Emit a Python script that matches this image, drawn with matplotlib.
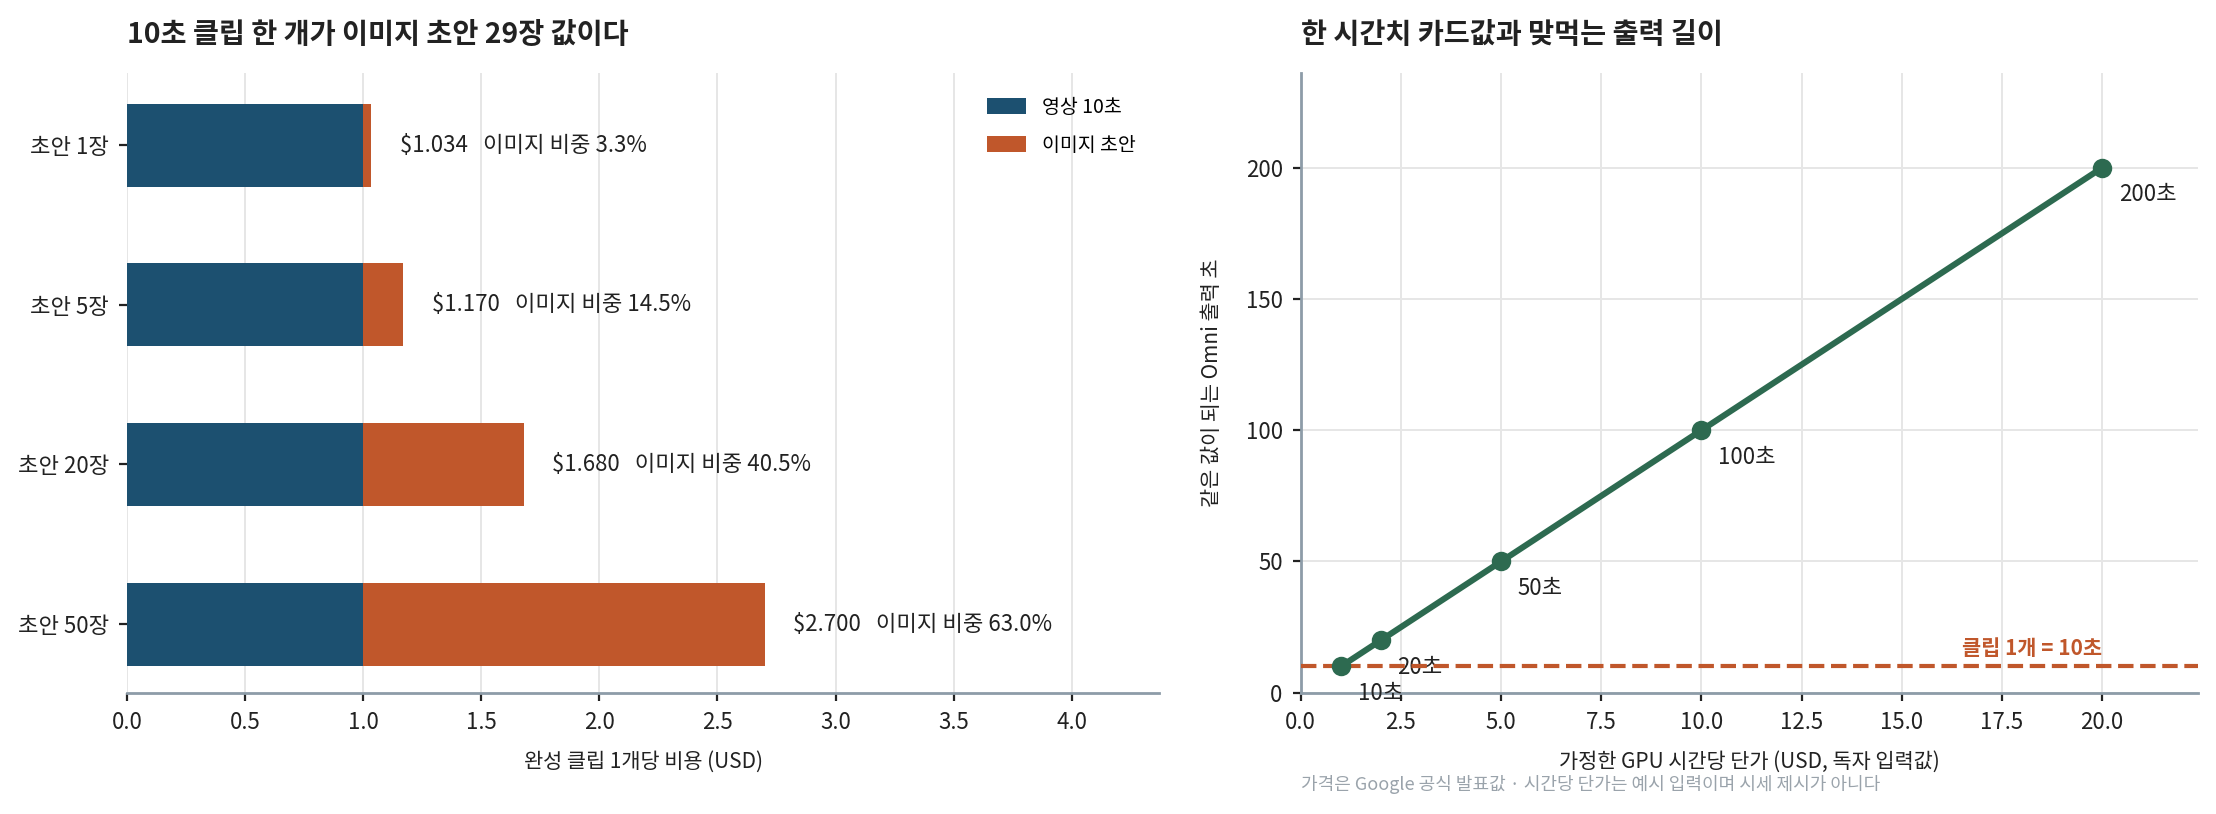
import numpy as np
import matplotlib
matplotlib.use("Agg")
import matplotlib.pyplot as plt

plt.rcParams["font.family"] = ["Noto Sans CJK KR", "DejaVu Sans"]

# --- data ---------------------------------------------------------------
draft_labels = ["초안 1장", "초안 5장", "초안 20장", "초안 50장"]
video_cost = [1.0, 1.0, 1.0, 1.0]
image_cost = [0.034, 0.17, 0.68, 1.70]

gpu_price = [1, 2, 5, 10, 20]
omni_seconds = [10, 20, 50, 100, 200]
clip_seconds = 10

NAVY = "#1c5070"
ORANGE = "#c0572b"
GREEN = "#2d6a50"
SPINE = "#8d9ca8"
GRID = "#e6e6e6"
TEXT = "#222222"

fig = plt.figure(figsize=(11.08, 4.07), dpi=200)
ax1 = fig.add_axes([0.0574, 0.149, 0.4656, 0.761])
ax2 = fig.add_axes([0.587, 0.149, 0.405, 0.761])

# --- left: stacked bars ---------------------------------------------------
y = np.arange(len(draft_labels))
ax1.barh(y, video_cost, height=0.52, color=NAVY, label="영상 10초", zorder=3)
ax1.barh(y, image_cost, left=video_cost, height=0.52, color=ORANGE,
         label="이미지 초안", zorder=3)
for i in range(len(y)):
    total = video_cost[i] + image_cost[i]
    share = image_cost[i] / total * 100
    ax1.text(total + 0.12, y[i], f"${total:.3f}   이미지 비중 {share:.1f}%",
             va="center", ha="left", fontsize=8, color=TEXT)

ax1.set_yticks(y)
ax1.set_yticklabels(draft_labels)
ax1.set_ylim(3.43, -0.45)
ax1.set_xlim(0, 4.37)
ax1.set_xticks(np.arange(0, 4.01, 0.5))
ax1.xaxis.grid(True, color=GRID, linewidth=0.7, zorder=0)
ax1.set_axisbelow(True)
for s in ["top", "right", "left"]:
    ax1.spines[s].set_visible(False)
ax1.spines["bottom"].set_color(SPINE)
ax1.spines["bottom"].set_linewidth(1.0)
ax1.tick_params(axis="both", labelsize=8, colors=TEXT, length=3)
ax1.set_xlabel("완성 클립 1개당 비용 (USD)", fontsize=7.5, color=TEXT, labelpad=6)
ax1.set_title("10초 클립 한 개가 이미지 초안 29장 값이다", loc="left",
              fontsize=10.2, fontweight="bold", color=TEXT, pad=11)
ax1.legend(loc="upper right", frameon=False, fontsize=7, handlelength=2.0,
           handleheight=0.9, labelspacing=0.9, borderaxespad=0.8)

# --- right: break-even line ----------------------------------------------
ax2.plot(gpu_price, omni_seconds, color=GREEN, linewidth=2.2, marker="o",
         markersize=6, zorder=4)
for px, sec in zip(gpu_price, omni_seconds):
    ax2.annotate(f"{sec}초", (px, sec), xytext=(6, -12), textcoords="offset points",
                 fontsize=8, color=TEXT)
ax2.axhline(clip_seconds, color=ORANGE, linestyle="--", linewidth=1.5, zorder=3)
ax2.text(20, clip_seconds + 3, f"클립 1개 = {clip_seconds}초", ha="right",
         va="bottom", fontsize=7.5, fontweight="bold", color=ORANGE)

ax2.set_xlim(0, 22.4)
ax2.set_ylim(0, 236)
ax2.set_xticks(np.arange(0, 20.01, 2.5))
ax2.set_yticks([0, 50, 100, 150, 200])
ax2.grid(True, color=GRID, linewidth=0.7, zorder=0)
ax2.set_axisbelow(True)
for s in ["top", "right"]:
    ax2.spines[s].set_visible(False)
for s in ["left", "bottom"]:
    ax2.spines[s].set_color(SPINE)
    ax2.spines[s].set_linewidth(1.0)
ax2.tick_params(axis="both", labelsize=8, colors=TEXT, length=3)
ax2.set_xlabel("가정한 GPU 시간당 단가 (USD, 독자 입력값)", fontsize=7.5,
               color=TEXT, labelpad=6)
ax2.set_ylabel("같은 값이 되는 Omni 출력 초", fontsize=7.5, color=TEXT, labelpad=8)
ax2.set_title("한 시간치 카드값과 맞먹는 출력 길이", loc="left",
              fontsize=10.2, fontweight="bold", color=TEXT, pad=11)

fig.text(0.587, 0.036, "가격은 Google 공식 발표값 · 시간당 단가는 예시 입력이며 시세 제시가 아니다",
         fontsize=6.5, color="#9aa3ab", ha="left", va="center")

fig.savefig("out.png", dpi=200)
